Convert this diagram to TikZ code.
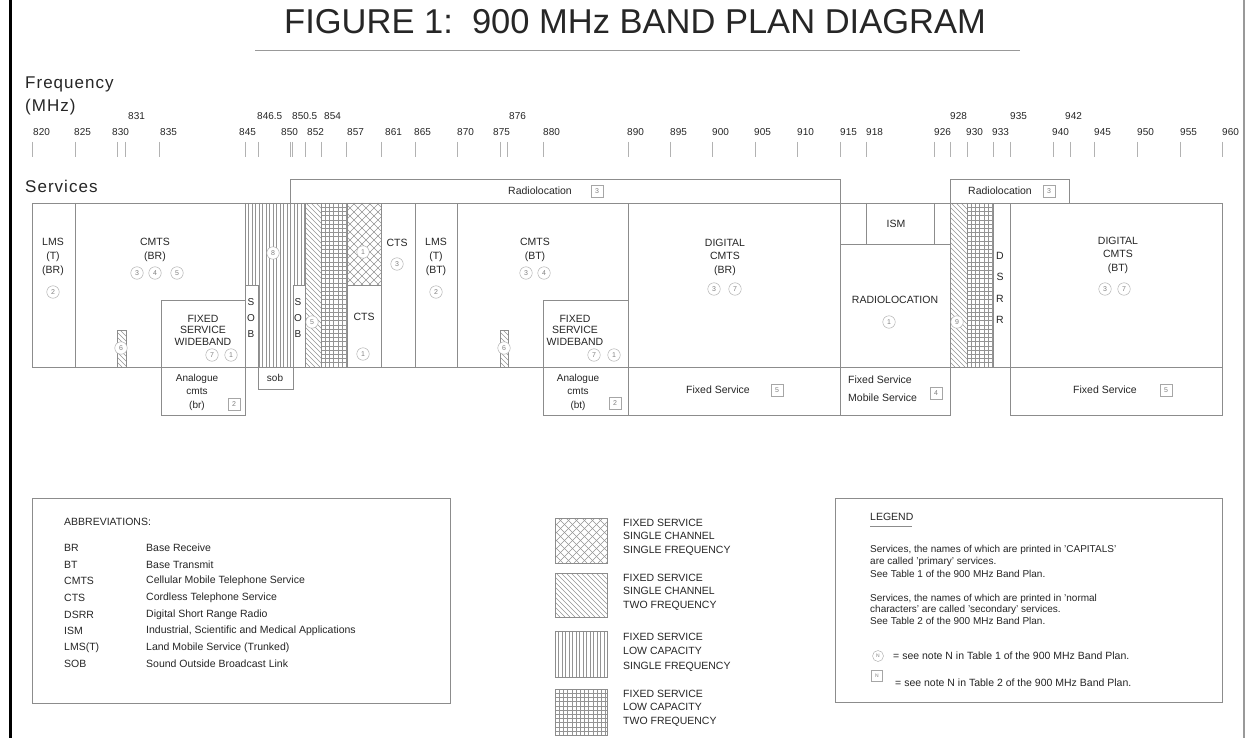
\documentclass[tikz,border=0pt]{standalone}
\usepackage{fontspec}
\setmainfont{Liberation Sans}
\newcommand\HatchV[5]{\begin{scope}\clip (#1,#2) rectangle (#3,#4);
 \pgfmathtruncatemacro\hN{(#3-#1)/#5+1}
 \foreach \i in {0,...,\hN} \draw[hl] ({#1+\i*#5},#2) -- ({#1+\i*#5},#4);
 \end{scope}}
\newcommand\HatchH[5]{\begin{scope}\clip (#1,#2) rectangle (#3,#4);
 \pgfmathtruncatemacro\hN{(#4-#2)/#5+1}
 \foreach \i in {0,...,\hN} \draw[hl] (#1,{#2+\i*#5}) -- (#3,{#2+\i*#5});
 \end{scope}}
\newcommand\HatchD[5]{\begin{scope}\clip (#1,#2) rectangle (#3,#4);
 \pgfmathsetmacro\hH{#4-#2}
 \pgfmathtruncatemacro\hN{(#3-#1+\hH)/#5+1}
 \foreach \i in {0,...,\hN} \draw[hl] ({#1-\hH+\i*#5},#2) -- ({#1+\i*#5},#4);
 \end{scope}}
\newcommand\HatchU[5]{\begin{scope}\clip (#1,#2) rectangle (#3,#4);
 \pgfmathsetmacro\hH{#4-#2}
 \pgfmathtruncatemacro\hN{(#3-#1+\hH)/#5+1}
 \foreach \i in {0,...,\hN} \draw[hl] ({#1-\hH+\i*#5},#4) -- ({#1+\i*#5},#2);
 \end{scope}}
\tikzset{
 bx/.style={draw=black!45, line width=0.8pt},
 hl/.style={draw=black!42, line width=0.4pt},
 lbl/.style={inner sep=0pt, align=center, text=black!85, font=\fontsize{10.5}{14}\selectfont},
 tlab/.style={inner sep=0pt, anchor=west, text=black!85, font=\fontsize{10}{12}\selectfont},
 tk/.style={draw=black!30, line width=0.8pt},
 nc/.style={circle, draw=black!35, fill=white, minimum size=12.5pt, inner sep=0pt, text=black!50, font=\fontsize{7}{7}\selectfont},
 ns/.style={rectangle, draw=black!35, fill=white, minimum size=12pt, inner sep=0pt, text=black!50, font=\fontsize{7}{7}\selectfont},
 txt/.style={inner sep=0pt, anchor=west, text=black!85, font=\fontsize{10.5}{13}\selectfont, align=left},
 hdr/.style={inner sep=0pt, anchor=base west, text=black!85, font=\fontsize{17}{18}\selectfont\addfontfeature{LetterSpace=6}},
}
\begin{document}
\begin{tikzpicture}[x=1pt,y=-1pt]
\useasboundingbox (0,0) rectangle (1247,738);
\fill[white] (0,0) rectangle (1247,738);
\draw[line width=3pt] (10,0) -- (10,738);
\draw[black!40, line width=1.2pt] (1244,0) -- (1244,738);

% title
\node[inner sep=0pt, text=black!85, font=\fontsize{34.5}{36}\selectfont] (title) at (635,22) {FIGURE 1:\ \ 900 MHz BAND PLAN DIAGRAM};
\draw[black!40, line width=0.8pt] (255,50) -- (1020,50);

% headers
\node[hdr] (freq) at (25,89) {Frequency};
\node[hdr] (mhz) at (25,112) {(MHz)};
\node[hdr] (serv) at (25,193) {Services};

% ticks
\foreach \x in {32,75,117,125,159,245,258,290,292,305,321,346,381,415,457,500,507,543,628,670,712,755,797,840,866,934,950,967,993,1010,1053,1070,1094,1137,1180,1222}
  \draw[tk] (\x,142) -- (\x,157);
\foreach \l/\x [count=\i] in {820/33,825/74,830/112,835/160,845/239,850/281,852/307,857/347,861/385,865/414,870/457,875/493,880/543,890/627,895/670,900/712,905/754,910/797,915/840,918/866,926/934,930/966,933/992,940/1052,945/1094,950/1137,955/1180,960/1222}
  \node[tlab] (tm\i) at (\x,132) {\l};
\foreach \l/\x [count=\i] in {831/128,846.5/257,850.5/292,854/324,876/509,928/950,935/1010,942/1065}
  \node[tlab] (tu\i) at (\x,116) {\l};

% hatched areas
\HatchV{245}{203}{305}{367}{3.5}
\HatchD{305}{203}{321}{367}{5}
\HatchV{321}{203}{347}{367}{4.2}
\HatchH{321}{203}{347}{367}{4.2}
\HatchD{347}{203}{381}{285}{8}
\HatchU{347}{203}{381}{285}{8}
\HatchD{950}{203}{967}{367}{5}
\HatchV{967}{203}{993}{367}{4.2}
\HatchH{967}{203}{993}{367}{4.2}
\HatchD{117}{330}{126}{367}{5}
\HatchD{500}{330}{508}{367}{5}

% boxes
\draw[bx] (32,203) rectangle (1222,367);
\draw[bx] (75,203) -- (75,367);
\draw[bx] (245,203) rectangle (305,367);
\draw[bx] (305,203) rectangle (321,367);
\draw[bx] (321,203) rectangle (347,367);
\draw[bx] (347,203) rectangle (381,285);
\draw[bx] (347,285) rectangle (381,367);
\draw[bx] (381,203) rectangle (415,367);
\draw[bx] (415,203) rectangle (457,367);
\draw[bx] (457,203) rectangle (628,367);
\draw[bx] (117,330) rectangle (126,367);
\draw[bx] (500,330) rectangle (508,367);
\draw[bx, fill=white] (161,300) rectangle (245,367);
\draw[bx] (161,367) rectangle (245,415);
\draw[bx, fill=white] (245,285) rectangle (258,367);
\draw[bx, fill=white] (293,285) rectangle (305,367);
\draw[bx] (258,367) rectangle (293,389);
\draw[bx, fill=white] (543,300) rectangle (628,367);
\draw[bx] (543,367) rectangle (628,415);
\draw[bx] (628,203) rectangle (840,367);
\draw[bx] (628,367) rectangle (840,415);
\draw[bx] (290,179) rectangle (840,203);
\draw[bx] (840,203) rectangle (950,244);
\draw[bx] (866,203) -- (866,244) (934,203) -- (934,244);
\draw[bx] (840,244) rectangle (950,367);
\draw[bx] (840,367) rectangle (950,415);
\draw[bx] (950,203) rectangle (967,367);
\draw[bx] (967,203) rectangle (993,367);
\draw[bx] (993,203) rectangle (1010,367);
\draw[bx] (950,179) rectangle (1069,203);
\draw[bx] (1010,203) rectangle (1222,367);
\draw[bx] (1010,367) rectangle (1222,415);

% band texts
\node[lbl] (lmsbr) at (53,257) {LMS\\(T)\\(BR)};
\node[lbl] (cmtsbr) at (155,250) {CMTS\\(BR)};
\node[lbl, font=\fontsize{10.5}{11.5}\selectfont] (fsw1) at (203,330) {FIXED\\SERVICE\\WIDEBAND};
\node[lbl, font=\fontsize{10}{13.5}\selectfont] (acb) at (197,392) {Analogue\\cmts\\(br)};
\node[lbl, font=\fontsize{10}{16}\selectfont] (sob1) at (251,318) {S\\O\\B};
\node[lbl, font=\fontsize{10}{16}\selectfont] (sob2) at (298,318) {S\\O\\B};
\node[lbl, font=\fontsize{10}{12}\selectfont] (sob3) at (275,378) {sob};
\node[lbl] (cts1) at (364,317) {CTS};
\node[lbl] (cts2) at (397,243) {CTS};
\node[lbl] (lmsbt) at (436,257) {LMS\\(T)\\(BT)};
\node[lbl] (cmtsbt) at (535,250) {CMTS\\(BT)};
\node[lbl, font=\fontsize{10.5}{11.5}\selectfont] (fsw2) at (575,330) {FIXED\\SERVICE\\WIDEBAND};
\node[lbl, font=\fontsize{10}{13.5}\selectfont] (act) at (578,392) {Analogue\\cmts\\(bt)};
\node[lbl, font=\fontsize{10.5}{13.5}\selectfont] (dcbr) at (725,257) {DIGITAL\\CMTS\\(BR)};
\node[lbl] (fs1) at (718,390) {Fixed Service};
\node[lbl] (rl1) at (540,191) {Radiolocation};
\node[lbl] (ism) at (896,224) {ISM};
\node[lbl] (rloc) at (895,300) {RADIOLOCATION};
\node[txt, font=\fontsize{10.5}{18}\selectfont] (fsms) at (848,389) {Fixed Service\\Mobile Service};
\node[lbl, font=\fontsize{10.5}{21.3}\selectfont] (dsrr) at (1000,288) {D\\S\\R\\R};
\node[lbl] (rl2) at (1000,191) {Radiolocation};
\node[lbl, font=\fontsize{10.5}{13.5}\selectfont] (dcbt) at (1118,255) {DIGITAL\\CMTS\\(BT)};
\node[lbl] (fs2) at (1105,390) {Fixed Service};

% note circles
\node[nc] (n1) at (53,292) {2};
\node[nc] (n2) at (137,273) {3};
\node[nc] (n3) at (155,273) {4};
\node[nc] (n4) at (177,273) {5};
\node[nc] (n5) at (121,348) {6};
\node[nc] (n6) at (212,355) {7};
\node[nc] (n7) at (231,355) {1};
\node[nc] (n8) at (273,253) {8};
\node[nc] (n9) at (312,322) {5};
\node[nc] (n10) at (363,252) {1};
\node[nc] (n11) at (363,354) {1};
\node[nc] (n12) at (397,264) {3};
\node[nc] (n13) at (436,292) {2};
\node[nc] (n14) at (526,273) {3};
\node[nc] (n15) at (544,273) {4};
\node[nc] (n16) at (504,348) {6};
\node[nc] (n17) at (594,355) {7};
\node[nc] (n18) at (614,355) {1};
\node[nc] (n19) at (714,289) {3};
\node[nc] (n20) at (735,289) {7};
\node[nc] (n21) at (889,322) {1};
\node[nc] (n22) at (957,322) {9};
\node[nc] (n23) at (1105,289) {3};
\node[nc] (n24) at (1124,289) {7};
% note squares
\node[ns] (s1) at (234,404) {2};
\node[ns] (s2) at (615,403) {2};
\node[ns] (s3) at (777,390) {5};
\node[ns] (s4) at (936,393) {4};
\node[ns] (s5) at (1166,390) {5};
\node[ns] (s6) at (597,191) {3};
\node[ns] (s7) at (1049,191) {3};

% abbreviations box
\draw[bx] (32,498) rectangle (450,703);
\node[txt] (abt) at (64,522) {ABBREVIATIONS:};
\foreach \a/\b [count=\i] in {BR/Base Receive, BT/Base Transmit, CMTS/Cellular Mobile Telephone Service, CTS/Cordless Telephone Service, DSRR/Digital Short Range Radio, ISM/{Industrial, Scientific and Medical Applications}, LMS(T)/Land Mobile Service (Trunked), SOB/Sound Outside Broadcast Link}
{ \node[txt] (ab\i) at (64,{548+(\i-1)*16.6}) {\a};
  \node[txt] (ad\i) at (146,{548+(\i-1)*16.6}) {\b}; }

% pattern legend
\HatchD{555}{518}{607}{563}{8}
\HatchU{555}{518}{607}{563}{8}
\draw[bx] (555,518) rectangle (607,563);
\HatchD{555}{573}{607}{617}{5}
\draw[bx] (555,573) rectangle (607,617);
\HatchV{555}{631}{607}{677}{3.5}
\draw[bx] (555,631) rectangle (607,677);
\HatchV{555}{689}{607}{735}{4.2}
\HatchH{555}{689}{607}{735}{4.2}
\draw[bx] (555,689) rectangle (607,735);
\node[txt, font=\fontsize{10.5}{13.5}\selectfont] (p1) at (623,537) {FIXED SERVICE\\SINGLE CHANNEL\\SINGLE FREQUENCY};
\node[txt, font=\fontsize{10.5}{13.5}\selectfont] (p2) at (623,592) {FIXED SERVICE\\SINGLE CHANNEL\\TWO FREQUENCY};
\node[txt, font=\fontsize{10.5}{14.5}\selectfont] (p3) at (623,652) {FIXED SERVICE\\LOW CAPACITY\\SINGLE FREQUENCY};
\node[txt, font=\fontsize{10.5}{13.5}\selectfont] (p4) at (623,708) {FIXED SERVICE\\LOW CAPACITY\\TWO FREQUENCY};

% legend box
\draw[bx] (835,498) rectangle (1222,702);
\node[txt] (lgt) at (870,517) {LEGEND};
\draw[black!45, line width=0.6pt] (870,526) -- (912,526);
\node[txt, font=\fontsize{10}{12.5}\selectfont] (lg1) at (870,561) {Services, the names of which are printed in 'CAPITALS'\\are called 'primary' services.\\See Table 1 of the 900 MHz Band Plan.};
\node[txt, font=\fontsize{10}{11.5}\selectfont] (lg2) at (870,609) {Services, the names of which are printed in 'normal\\characters' are called 'secondary' services.\\See Table 2 of the 900 MHz Band Plan.};
\node[nc, minimum size=11pt, font=\fontsize{5}{5}\selectfont] (lgc) at (878,656) {N};
\node[txt] (lgc1) at (893,656) {= see note N in Table 1 of the 900 MHz Band Plan.};
\node[ns, minimum size=11pt, font=\fontsize{5}{5}\selectfont] (lgs) at (877,676) {N};
\node[txt] (lgs1) at (895,683) {= see note N in Table 2 of the 900 MHz Band Plan.};
\end{tikzpicture}
\end{document}
